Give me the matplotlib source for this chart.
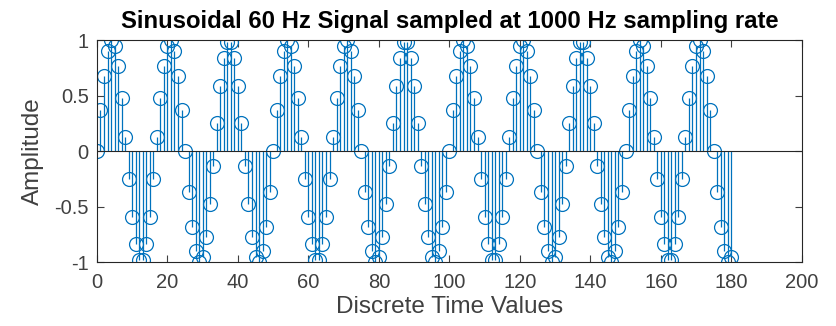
import numpy as np
import matplotlib.pyplot as plt

plt.rcParams['font.family'] = ['Liberation Sans', 'DejaVu Sans']

# sample values (n = 0 .. 180)
amp = [
    0.00, 0.37, 0.68, 0.90, 1.00, 0.95, 0.77, 0.48, 0.13, -0.25, -0.59, -0.84, -0.98,
    -0.98, -0.84, -0.59, -0.25, 0.13, 0.48, 0.77, 0.95, 1.00, 0.90, 0.68, 0.37,
    0.00, -0.37, -0.68, -0.90, -1.00, -0.95, -0.77, -0.48, -0.13, 0.25, 0.59, 0.84, 0.98,
    0.98, 0.84, 0.59, 0.25, -0.13, -0.48, -0.77, -0.95, -1.00, -0.90, -0.68, -0.37,
    0.00, 0.37, 0.68, 0.90, 1.00, 0.95, 0.77, 0.48, 0.13, -0.25, -0.59, -0.84, -0.98,
    -0.98, -0.84, -0.59, -0.25, 0.13, 0.48, 0.77, 0.95, 1.00, 0.90, 0.68, 0.37,
    0.00, -0.37, -0.68, -0.90, -1.00, -0.95, -0.77, -0.48, -0.13, 0.25, 0.59, 0.84, 0.98,
    0.98, 0.84, 0.59, 0.25, -0.13, -0.48, -0.77, -0.95, -1.00, -0.90, -0.68, -0.37,
    0.00, 0.37, 0.68, 0.90, 1.00, 0.95, 0.77, 0.48, 0.13, -0.25, -0.59, -0.84, -0.98,
    -0.98, -0.84, -0.59, -0.25, 0.13, 0.48, 0.77, 0.95, 1.00, 0.90, 0.68, 0.37,
    0.00, -0.37, -0.68, -0.90, -1.00, -0.95, -0.77, -0.48, -0.13, 0.25, 0.59, 0.84, 0.98,
    0.98, 0.84, 0.59, 0.25, -0.13, -0.48, -0.77, -0.95, -1.00, -0.90, -0.68, -0.37,
    0.00, 0.37, 0.68, 0.90, 1.00, 0.95, 0.77, 0.48, 0.13, -0.25, -0.59, -0.84, -0.98,
    -0.98, -0.84, -0.59, -0.25, 0.13, 0.48, 0.77, 0.95, 1.00, 0.90, 0.68, 0.37,
    0.00, -0.37, -0.68, -0.90, -1.00, -0.95,
]
n = np.arange(len(amp))

xticks = [0, 20, 40, 60, 80, 100, 120, 140, 160, 180, 200]
yticks = [-1, -0.5, 0, 0.5, 1]
ytick_labels = ['-1', '-0.5', '0', '0.5', '1']

blue = '#0072BD'
axc = '#262626'

fig = plt.figure(figsize=(8.36, 3.26), dpi=100)
ax = fig.add_axes([0.116, 0.196, 0.843, 0.681])

ml, sl, bl = ax.stem(n, amp, basefmt=' ')
plt.setp(sl, color=blue, linewidth=0.9)
plt.setp(ml, marker='o', markersize=10, markerfacecolor='none',
         markeredgecolor=blue, markeredgewidth=0.9)
ax.axhline(0, color=axc, linewidth=0.8, zorder=3)

ax.set_xlim(0, 200)
ax.set_ylim(-1, 1)
ax.set_xticks(xticks)
ax.set_yticks(yticks)
ax.set_yticklabels(ytick_labels)
ax.tick_params(direction='in', length=5, width=0.8, colors='#404040',
               labelsize=14.5, top=True, right=True,
               labeltop=False, labelright=False)
ax.tick_params(axis='x', pad=8)
ax.tick_params(axis='y', pad=6)
for s in ax.spines.values():
    s.set_color(axc)
    s.set_linewidth(0.8)

ax.set_xlabel('Discrete Time Values', fontsize=17.5, color='#404040', labelpad=3)
ax.set_ylabel('Amplitude', fontsize=17.5, color='#404040', labelpad=7)
ax.set_title('Sinusoidal 60 Hz Signal sampled at 1000 Hz sampling rate',
             fontsize=17.2, fontweight='bold', pad=9)

fig.savefig('out.png', dpi=100)
